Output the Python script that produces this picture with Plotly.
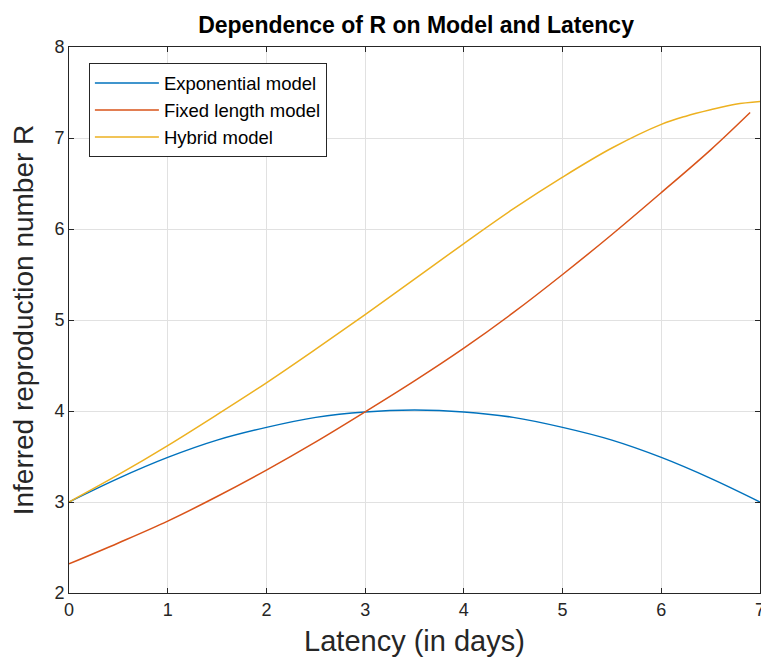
import plotly.graph_objects as go

latency = [0, 0.5, 1, 1.5, 2, 2.5, 3, 3.5, 4, 4.5, 5, 5.5, 6, 6.5, 7]
exponential = [3.0, 3.26, 3.49, 3.68, 3.82, 3.93, 3.99, 4.01, 3.99, 3.93, 3.82, 3.68, 3.49, 3.26, 3.0]

latency_fixed = [0, 0.5, 1, 1.5, 2, 2.5, 3, 3.5, 4, 4.5, 5, 5.5, 6, 6.5, 6.9]
fixed_length = [2.32, 2.55, 2.79, 3.06, 3.35, 3.66, 3.99, 4.33, 4.69, 5.08, 5.50, 5.94, 6.40, 6.87, 7.28]

latency_hybrid = [0, 0.5, 1, 1.5, 2, 2.5, 3, 3.5, 4, 4.5, 5, 5.5, 6, 6.25, 6.5, 6.75, 7]
hybrid = [3.0, 3.30, 3.62, 3.96, 4.31, 4.68, 5.06, 5.45, 5.84, 6.22, 6.57, 6.89, 7.15, 7.24, 7.31, 7.37, 7.40]

x_ticks = [0, 1, 2, 3, 4, 5, 6, 7]
y_ticks = [2, 3, 4, 5, 6, 7, 8]

colors = ["#0072BD", "#D95319", "#EDB120"]
font_family = "Liberation Sans, Arial, sans-serif"

fig = go.Figure()
fig.add_trace(go.Scatter(x=latency, y=exponential, mode="lines", name="Exponential model",
                         line=dict(color=colors[0], width=1.5, shape="spline", smoothing=1.0)))
fig.add_trace(go.Scatter(x=latency_fixed, y=fixed_length, mode="lines", name="Fixed length model",
                         line=dict(color=colors[1], width=1.5, shape="spline", smoothing=1.0)))
fig.add_trace(go.Scatter(x=latency_hybrid, y=hybrid, mode="lines", name="Hybrid model",
                         line=dict(color=colors[2], width=1.5, shape="spline", smoothing=1.0)))

axis_common = dict(
    showline=True, linecolor="#262626", linewidth=1, mirror="ticks",
    ticks="inside", ticklen=5, tickcolor="#262626",
    showgrid=True, gridcolor="#e1e1e1", gridwidth=1,
    zeroline=False, ticklabeloverflow="allow",
    tickfont=dict(size=18, color="#262626", family=font_family),
)

fig.update_layout(
    width=769, height=667,
    paper_bgcolor="white", plot_bgcolor="white",
    margin=dict(l=61, r=14, t=39, b=82),
    font=dict(family=font_family, color="#262626"),
    title=dict(text="<b>Dependence of R on Model and Latency</b>", x=0.5306, xanchor="center",
               y=0.9745, yanchor="middle", font=dict(size=23, color="black", family=font_family)),
    xaxis=dict(range=[0, 7], tickvals=x_ticks, automargin=True, **axis_common,
               title=dict(text="Latency (in days)", font=dict(size=29, color="#262626"), standoff=12)),
    yaxis=dict(range=[2, 8], tickvals=y_ticks, automargin=False, **axis_common,
               title=dict(text="Inferred reproduction number R", font=dict(size=28, color="#262626"), standoff=12)),
    legend=dict(x=0.0288, y=0.970, xanchor="left", yanchor="top",
                bgcolor="white", bordercolor="#262626", borderwidth=1,
                font=dict(size=18.5, color="black", family=font_family),
                itemwidth=64, tracegroupgap=0),
    showlegend=True,
)

fig.write_html("out.html")
